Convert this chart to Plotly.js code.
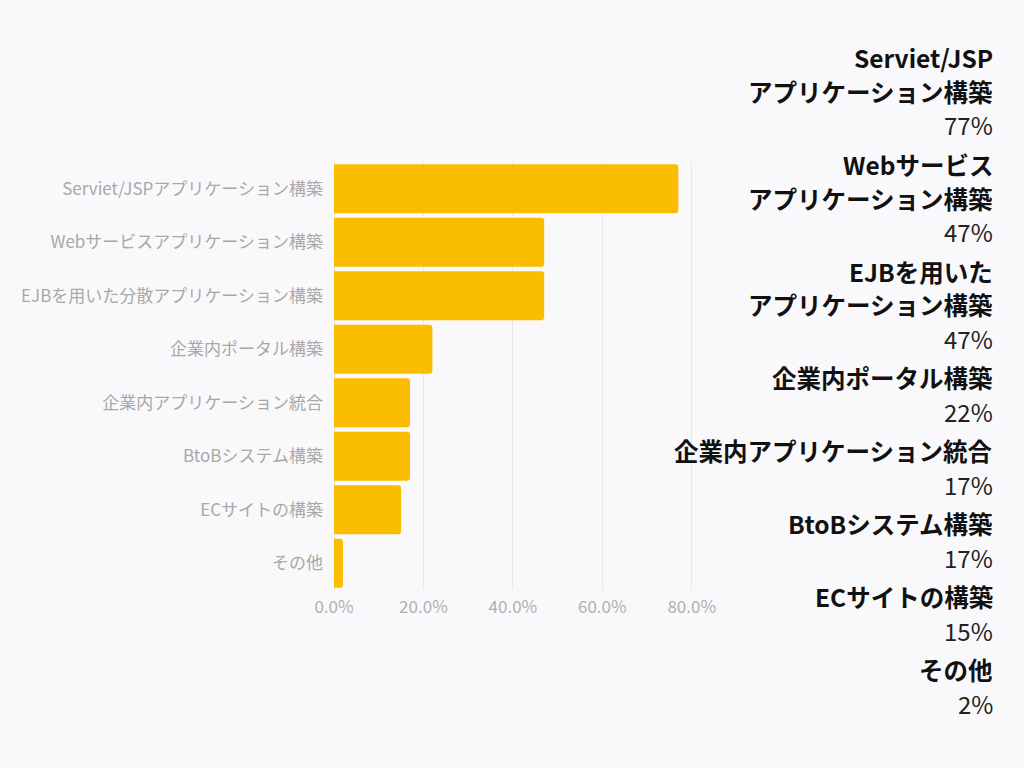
<!DOCTYPE html>
<html>
<head>
<meta charset="utf-8">
<script src="https://cdn.plot.ly/plotly-3.0.1.min.js"></script>
<style>
  html, body { margin: 0; padding: 0; background: #f9f9fb; }
  #chart { width: 1024px; height: 768px; }
</style>
</head>
<body>
<div id="chart"></div>
<script>
// カテゴリと割合(%)
const categories = ['Serviet/JSPアプリケーション構築', 'Webサービスアプリケーション構築', 'EJBを用いた分散アプリケーション構築',
  '企業内ポータル構築', '企業内アプリケーション統合', 'BtoBシステム構築', 'ECサイトの構築', 'その他'];
const values = [77, 47, 47, 22, 17, 17, 15, 2];
// 右側の見出し(改行あり)
const sideLabels = [['Serviet/JSP', 'アプリケーション構築'], ['Webサービス', 'アプリケーション構築'], ['EJBを用いた', 'アプリケーション構築'],
  ['企業内ポータル構築'], ['企業内アプリケーション統合'], ['BtoBシステム構築'], ['ECサイトの構築'], ['その他']];
const xTicks = [0, 20, 40, 60, 80];

const font = '"Noto Sans CJK JP", "Noto Sans", sans-serif';
const W = 1024, H = 768;
const m = { l: 334, r: 330, t: 162, b: 178 };
const plotH = H - m.t - m.b;
const plotW = W - m.l - m.r;
const px2y = py => (H - m.b - py) / plotH;
const px2x = px => (px - m.l) / plotW;

// 右側のテキスト
const annotations = [];
let yy = 58;
sideLabels.forEach((lines, i) => {
  lines.forEach(t => {
    annotations.push({ xref: 'paper', yref: 'paper', x: px2x(995), y: px2y(yy), xanchor: 'right', yanchor: 'middle',
      text: '<b>' + t + '</b>', showarrow: false, font: { family: font, size: 24.5, color: '#111' } });
    yy += 33.5;
  });
  annotations.push({ xref: 'paper', yref: 'paper', x: px2x(995), y: px2y(yy), xanchor: 'right', yanchor: 'middle',
    text: values[i] + '%', showarrow: false, font: { family: font, size: 24, color: '#222' } });
  yy += 39.5;
});

const trace = {
  type: 'bar',
  orientation: 'h',
  y: categories,
  x: values,
  marker: { color: '#fbbd00' },
  hovertemplate: '%{x}%<extra></extra>'
};

const layout = {
  width: W, height: H,
  margin: m,
  paper_bgcolor: '#f9f9fb',
  plot_bgcolor: '#f9f9fb',
  showlegend: false,
  bargap: 0.08,
  barcornerradius: 3,
  xaxis: {
    range: [0, 80.5], tickvals: xTicks, ticktext: xTicks.map(v => v.toFixed(1) + '%'),
    showgrid: true, gridcolor: '#e8e8ec', zeroline: true, zerolinecolor: '#e0e0e4',
    tickfont: { family: font, size: 17, color: '#b0b0b0' }, ticks: '', ticklabelstandoff: 5, fixedrange: true
  },
  yaxis: {
    autorange: 'reversed', showgrid: false, zeroline: false, ticks: '', ticklabelstandoff: 10,
    tickfont: { family: font, size: 17, color: '#a8a8a8' }, fixedrange: true
  },
  annotations: annotations
};

Plotly.newPlot('chart', [trace], layout, { displayModeBar: false, staticPlot: true });
</script>
</body>
</html>
